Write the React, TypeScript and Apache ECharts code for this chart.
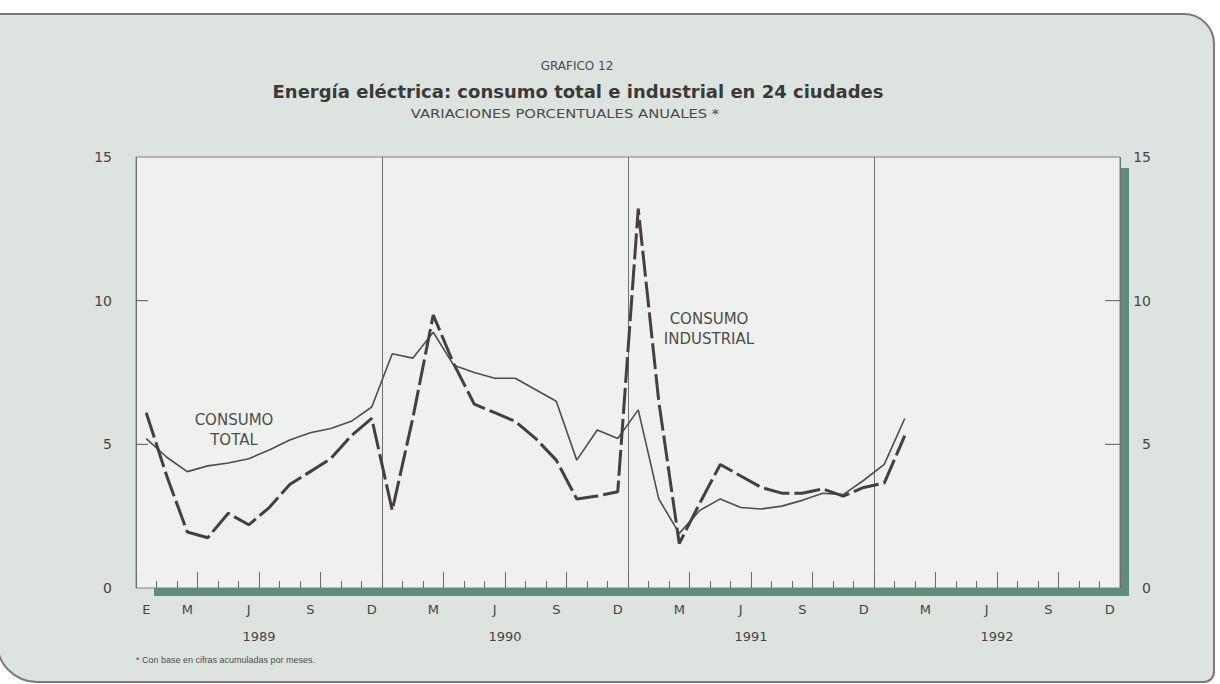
import React, { useEffect, useRef } from "react";
import * as echarts from "echarts";

// ---------- data ----------
const YEARS = ["1989", "1990", "1991", "1992"];
const MONTH_LETTERS = ["E", "F", "M", "A", "M", "J", "J", "A", "S", "O", "N", "D"];
const SHOWN_MONTHS = [2, 5, 8, 11];
const MONTHS = YEARS.flatMap((y) =>
  MONTH_LETTERS.map((_, i) => `${y}-${String(i + 1).padStart(2, "0")}`)
);

// Consumo total (variación porcentual anual), ene-1989 .. feb-1992
const consumoTotal = [
  5.2, 4.55, 4.05, 4.25, 4.35, 4.5, 4.8, 5.15, 5.4, 5.55, 5.8, 6.3,
  8.15, 8.0, 8.9, 7.75, 7.5, 7.3, 7.3, 6.9, 6.5, 4.45, 5.5, 5.2,
  6.2, 3.1, 1.9, 2.7, 3.1, 2.8, 2.75, 2.85, 3.05, 3.3, 3.25, 3.75,
  4.3, 5.9,
];

// Consumo industrial, ene-1989 .. feb-1992
const consumoIndustrial = [
  6.1, 3.9, 1.95, 1.75, 2.6, 2.2, 2.8, 3.6, 4.05, 4.5, 5.3, 5.9,
  2.7, 5.9, 9.5, 7.8, 6.4, 6.1, 5.8, 5.2, 4.45, 3.1, 3.2, 3.35,
  13.2, 6.5, 1.55, 2.95, 4.3, 3.9, 3.5, 3.3, 3.3, 3.45, 3.2, 3.5,
  3.65, 5.3,
];

const Y_MIN = 0;
const Y_MAX = 15;
const Y_STEP = 5;
const Y_INNER_TICKS = [5, 10];

// ---------- layout ----------
const W = 1220;
const H = 684;
const GRID_LEFT = 136;
const GRID_RIGHT = 100;
const GRID_TOP = 157;
const GRID_BOTTOM = 96;
const PLOT_R = W - GRID_RIGHT;
const PLOT_B = H - GRID_BOTTOM;

const FONT = "'DejaVu Sans', 'Liberation Sans', Arial, sans-serif";
const FONT2 = "'Liberation Sans', Arial, sans-serif";
const TXT = "#454545";

export default function App() {
  const ref = useRef<HTMLDivElement>(null);

  useEffect(() => {
    if (!ref.current) return;
    const chart = echarts.init(ref.current, null, { renderer: "svg" });

    const tickAxis = (interval: number, len: number) => ({
      type: "value",
      min: 0,
      max: MONTHS.length,
      interval,
      position: "bottom",
      axisLine: { show: false },
      axisLabel: { show: false },
      splitLine: { show: false },
      axisTick: { show: true, inside: true, length: len, lineStyle: { color: "#6a6a6a", width: 1 } },
    });

    const yAxisBase = {
      type: "value",
      min: Y_MIN,
      max: Y_MAX,
      interval: Y_STEP,
      axisLine: { show: false },
      splitLine: { show: false },
      axisTick: { show: false },
    };

    chart.setOption({
      animation: false,
      backgroundColor: "#ffffff",
      grid: {
        left: GRID_LEFT,
        right: GRID_RIGHT,
        top: GRID_TOP,
        bottom: GRID_BOTTOM,
        show: true,
        backgroundColor: "#eef1ed",
        borderColor: "#808080",
        borderWidth: 1,
      },
      xAxis: [
        {
          type: "category",
          data: MONTHS,
          boundaryGap: true,
          position: "bottom",
          axisLine: { show: false },
          axisTick: { show: false },
          splitLine: { show: false },
          axisLabel: {
            interval: 0,
            margin: 15,
            color: TXT,
            fontSize: 13,
            fontFamily: FONT,
            formatter: (_v: string, i: number) =>
              i === 0 ? "E" : SHOWN_MONTHS.includes(i % 12) ? MONTH_LETTERS[i % 12] : "",
          },
        },
        tickAxis(1, 7),
        tickAxis(3, 16),
        {
          type: "value",
          min: 0,
          max: MONTHS.length,
          interval: 12,
          position: "bottom",
          axisLine: { show: false },
          axisLabel: { show: false },
          axisTick: { show: false },
          splitLine: { show: true, lineStyle: { color: "#707070", width: 1 } },
        },
        {
          type: "category",
          data: YEARS,
          position: "bottom",
          boundaryGap: true,
          axisLine: { show: false },
          axisTick: { show: false },
          splitLine: { show: false },
          axisLabel: { margin: 42, color: TXT, fontSize: 13, fontFamily: FONT },
        },
      ],
      yAxis: [
        {
          ...yAxisBase,
          position: "left",
          axisLabel: { margin: 24, color: TXT, fontSize: 14, fontFamily: FONT },
        },
        {
          ...yAxisBase,
          position: "right",
          axisLabel: { margin: 31, align: "right", color: TXT, fontSize: 14, fontFamily: FONT },
        },
      ],
      series: [
        {
          name: "Consumo total",
          type: "line",
          xAxisIndex: 0,
          yAxisIndex: 0,
          data: consumoTotal,
          symbol: "none",
          lineStyle: { color: "#4e4e4e", width: 1.6 },
          z: 3,
        },
        {
          name: "Consumo industrial",
          type: "line",
          xAxisIndex: 0,
          yAxisIndex: 0,
          data: consumoIndustrial,
          symbol: "none",
          lineStyle: { color: "#463f3f", width: 3, type: [26, 5] },
          z: 4,
        },
      ],
    });

    // inner tick marks on both value axes, placed through the axis scale
    const tickLines: any[] = [];
    Y_INNER_TICKS.forEach((v) => {
      const y = chart.convertToPixel({ yAxisIndex: 0 }, v) as number;
      tickLines.push({
        type: "line",
        z: 10,
        shape: { x1: GRID_LEFT, y1: y, x2: GRID_LEFT + 12, y2: y },
        style: { stroke: "#5a5a5a", lineWidth: 1 },
      });
      tickLines.push({
        type: "line",
        z: 10,
        shape: { x1: PLOT_R - 15, y1: y, x2: PLOT_R, y2: y },
        style: { stroke: "#5a5a5a", lineWidth: 1 },
      });
    });

    chart.setOption({
      graphic: [
        {
          type: "rect",
          z: -20,
          shape: { x: -3, y: 14, width: 1217, height: 668, r: [0, 30, 10, 40] },
          style: { fill: "#dde4df", stroke: "#7a7a7a", lineWidth: 2 },
        },
        {
          type: "rect",
          z: -10,
          shape: { x: GRID_LEFT + 18, y: PLOT_B, width: PLOT_R - GRID_LEFT - 9, height: 8 },
          style: { fill: "#5d8e7b" },
        },
        {
          type: "rect",
          z: -10,
          shape: { x: PLOT_R, y: GRID_TOP + 11, width: 9, height: PLOT_B - GRID_TOP - 3 },
          style: { fill: "#5d8e7b" },
        },
        {
          type: "text",
          x: 577,
          y: 66,
          z: 10,
          style: { text: "GRAFICO 12", fill: "#4a4a4a", font: `12px ${FONT}`, textAlign: "center", textVerticalAlign: "middle" },
        },
        {
          type: "text",
          x: 578,
          y: 91,
          z: 10,
          style: {
            text: "Energía eléctrica: consumo total e industrial en 24 ciudades",
            fill: "#3a3a3a",
            font: `bold 18px ${FONT}`,
            textAlign: "center",
            textVerticalAlign: "middle",
          },
        },
        {
          type: "text",
          x: 565,
          y: 113,
          z: 10,
          scaleX: 1.14,
          originX: 0,
          originY: 0,
          style: { text: "VARIACIONES PORCENTUALES ANUALES *", fill: "#4a4a4a", font: `13px ${FONT}`, textAlign: "center", textVerticalAlign: "middle" },
        },
        {
          type: "text",
          x: 234,
          y: 430,
          z: 10,
          style: { text: "CONSUMO\nTOTAL", fill: "#4d4d4d", font: `15px ${FONT}`, lineHeight: 20, textAlign: "center", textVerticalAlign: "middle" },
        },
        {
          type: "text",
          x: 709,
          y: 329,
          z: 10,
          style: { text: "CONSUMO\nINDUSTRIAL", fill: "#4d4d4d", font: `15px ${FONT}`, lineHeight: 20, textAlign: "center", textVerticalAlign: "middle" },
        },
        {
          type: "text",
          x: 136,
          y: 660,
          z: 10,
          style: { text: "* Con base en cifras acumuladas por meses.", fill: "#4d4d4d", font: `9px ${FONT2}`, textAlign: "left", textVerticalAlign: "middle" },
        },
        ...tickLines,
      ],
    });

    return () => chart.dispose();
  }, []);

  return (
    <div
      ref={ref}
      style={{ position: "absolute", left: 0, top: 0, width: W, height: H }}
    />
  );
}
